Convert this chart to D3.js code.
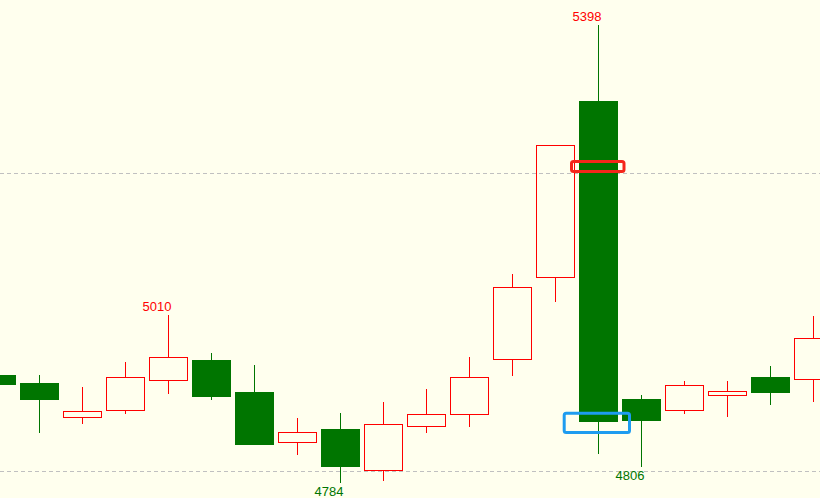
<!DOCTYPE html>
<html><head><meta charset="utf-8">
<script src="https://cdn.jsdelivr.net/npm/d3@7/dist/d3.min.js"></script>
<style>html,body{margin:0;padding:0;background:#FFFFEE;}svg{display:block;}</style>
</head><body><div id="chart"></div>
<script>
// candle data (index 0 is partly clipped at the left edge, 19 at the right edge)
const opens  = [4929,4918,4873,4881.5,4922,4949,4906,4838.5,4856,4802,4860,4876,4950,5061,5297,4897,4881.5,4901.6,4926,4924];
const highs  = [4932,4929,4913,4946,5010,4958,4942,4871,4878,4893,4910,4953,5064,5237,5398,4902,4921,4921,4941,5008];
const lows   = [4912,4851,4863.5,4877,4904,4895,4835,4822,4784,4786,4851,4859.5,4928,5027,4823,4806,4876,4873,4889,4892];
const closes = [4916,4895,4880,4926,4952.6,4900,4835,4852,4806,4863,4876,4926,5046.6,5237,4866,4867.5,4916,4908,4905,4978];
const gridLevels = [4800, 5200];
// price labels: [candle index, kind]
const labelIdx  = [14, 4, 8, 15];
const labelKind = ["high","high","low","low"];
// highlight boxes on candle 14: [candle, top price, bottom price]
const boxCandle = [14, 14];
const boxTop    = [5215.4, 4877.6];
const boxBottom = [5202, 4851.7];
const boxColors = ["#F5261A", "#1E9CF0"];

const W = 820, H = 498;
const UP = "#FF0000", DOWN = "#007500";
const svg = d3.select("#chart").append("svg").attr("width", W).attr("height", H);
svg.append("rect").attr("width", W).attr("height", H).attr("fill", "#FFFFEE");

const idx = d3.range(opens.length);
const x = d3.scaleLinear().domain([0, 19]).range([-3.5, 813.5]);
const y = d3.scaleLinear().domain([4800, 5200]).range([471, 173]);

// grid
svg.selectAll("line.grid").data(gridLevels).join("line")
  .attr("x1", 0).attr("x2", W)
  .attr("y1", d => Math.round(y(d)) + 0.5).attr("y2", d => Math.round(y(d)) + 0.5)
  .attr("stroke", "#C0C0C0").attr("stroke-dasharray", "4,3");

const g = svg.append("g").attr("shape-rendering", "crispEdges");
const half = 19;

idx.forEach(i => {
  const o = opens[i], c = closes[i], h = highs[i], l = lows[i];
  const cx = x(i);
  const up = c >= o;
  const top = Math.round(y(Math.max(o, c))), bot = Math.round(y(Math.min(o, c)));
  const yh = Math.round(y(h)), yl = Math.round(y(l));
  if (up) {
    if (yh < top) g.append("line").attr("x1", cx).attr("x2", cx).attr("y1", yh).attr("y2", top).attr("stroke", UP);
    if (yl > bot) g.append("line").attr("x1", cx).attr("x2", cx).attr("y1", bot + 1).attr("y2", yl).attr("stroke", UP);
    g.append("rect").attr("x", cx - half).attr("y", top + 0.5).attr("width", 2 * half).attr("height", Math.max(1, bot - top))
      .attr("fill", "none").attr("stroke", UP);
  } else {
    g.append("line").attr("x1", cx).attr("x2", cx).attr("y1", yh).attr("y2", yl).attr("stroke", DOWN);
    g.append("rect").attr("x", cx - half - 0.5).attr("y", top).attr("width", 2 * half + 1).attr("height", Math.max(1, bot - top))
      .attr("fill", DOWN);
  }
});

// price labels
labelIdx.forEach((i, k) => {
  const isHigh = labelKind[k] === "high";
  const v = isHigh ? highs[i] : lows[i];
  svg.append("text")
    .attr("x", x(i) + 3)
    .attr("y", isHigh ? y(v) - 4 : y(v) + 13)
    .attr("text-anchor", "end")
    .attr("font-family", "Liberation Sans, Arial, sans-serif")
    .attr("font-size", 13)
    .attr("fill", isHigh ? UP : DOWN)
    .text(Math.round(v));
});

// highlight boxes
boxCandle.forEach((i, k) => {
  const cx = x(i);
  const w = k === 0 ? [27, 25.5] : [34.3, 31];
  svg.append("rect")
    .attr("x", cx - w[0]).attr("y", y(boxTop[k]))
    .attr("width", w[0] + w[1]).attr("height", y(boxBottom[k]) - y(boxTop[k]))
    .attr("rx", 2).attr("fill", "none")
    .attr("stroke", boxColors[k]).attr("stroke-width", 3);
});
</script></body></html>
